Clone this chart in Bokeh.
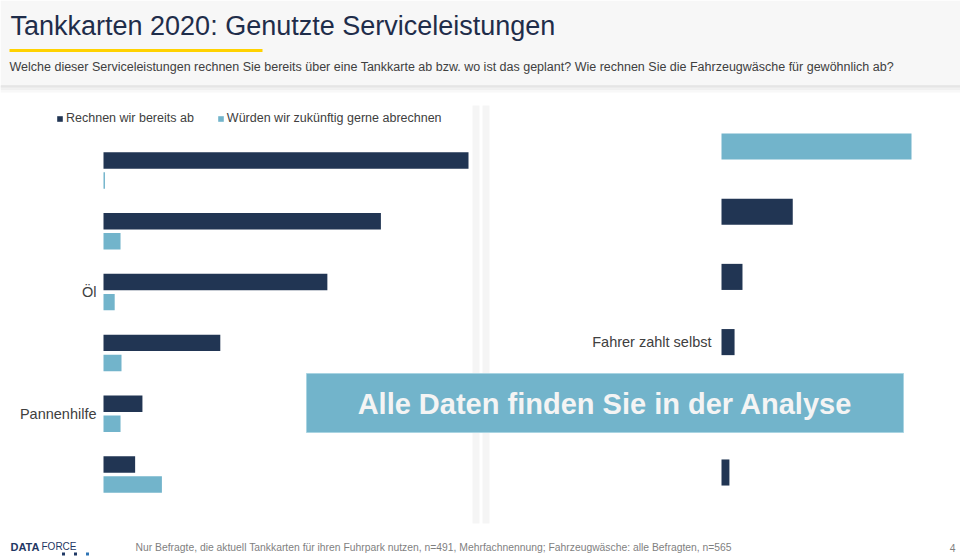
from bokeh.plotting import figure
from bokeh.models import Range1d, Legend, LegendItem, ColumnDataSource
from bokeh.transform import dodge
from bokeh.core.properties import value
from bokeh.embed import file_html
from bokeh.resources import INLINE

# ---------------- data ----------------
title = "Tankkarten 2020: Genutzte Serviceleistungen"
subtitle = ("Welche dieser Serviceleistungen rechnen Sie bereits über eine Tankkarte ab bzw. "
            "wo ist das geplant? Wie rechnen Sie die Fahrzeugwäsche für gewöhnlich ab?")
series_names = ["Rechnen wir bereits ab", "Würden wir zukünftig gerne abrechnen"]

left_labels = ["", "", "Öl", "", "Pannenhilfe", ""]
left_current = [75, 57, 46, 24, 8, 6.5]
left_future = [0.3, 3.5, 2.3, 3.7, 3.5, 12]

right_labels = ["", "", "", "Fahrer zahlt selbst", "", ""]
right_values = [48, 18, 5.3, 3.3, 3.0, 2.0]
right_series = [1, 0, 0, 0, 0, 0]

banner_text = "Alle Daten finden Sie in der Analyse"
footnote = ("Nur Befragte, die aktuell Tankkarten für ihren Fuhrpark nutzen, n=491, "
            "Mehrfachnennung; Fahrzeugwäsche: alle Befragten, n=565")
page_number = "4"

# ---------------- styles ----------------
FONT = "Liberation Sans"
DARK = "#213553"
LIGHT = "#72b4cb"
PALETTE = [DARK, LIGHT]
TEXT = "#404040"
TITLE_COL = "#1f2d4a"

W, H = 960, 560
X0, Y0 = 0, 0

p = figure(width=W, height=H, x_range=Range1d(X0, X0 + W), y_range=Range1d(Y0 + H, Y0),
           output_backend="svg", toolbar_location=None, min_border=0,
           x_axis_location=None, y_axis_location=None)
p.grid.visible = False
p.outline_line_color = None
p.background_fill_color = "white"
p.border_fill_color = "white"

# chart scales (layout): left chart 0..75 over px 103..468; rows at 170 + 60.8*i
L_PX0, L_PX1, L_MAX = 103, 468, 75
ls = (L_PX1 - L_PX0) / L_MAX
L_ROW0, L_PITCH = 170, 60.8
R_PX0, R_PX1, R_MAX = 721, 911, 48
rs = (R_PX1 - R_PX0) / R_MAX
R_ROW0, R_PITCH = 146, 65.2

p.extra_x_ranges = {
    "lx": Range1d((X0 - L_PX0) / ls, (X0 + W - L_PX0) / ls),
    "rx": Range1d((X0 - R_PX0) / rs, (X0 + W - R_PX0) / rs),
}
p.extra_y_ranges = {
    "ly": Range1d((Y0 + H - L_ROW0) / L_PITCH, (Y0 - L_ROW0) / L_PITCH),
    "ry": Range1d((Y0 + H - R_ROW0) / R_PITCH, (Y0 - R_ROW0) / R_PITCH),
}

# header
p.quad(left=[0], right=[960], top=[0], bottom=[85], fill_color="#f7f7f7", line_color=None)
for y0, y1, c in [(85, 86, "#d6d6d6"), (86, 87, "#e0e0e0"), (87, 88, "#e8e8e8"),
                  (88, 89.5, "#f0f0f0"), (89.5, 92, "#f8f8f8")]:
    p.quad(left=[0], right=[960], top=[y0], bottom=[y1], fill_color=c, line_color=None)
p.quad(left=[9], right=[262], top=[48.5], bottom=[51.5], fill_color="#ffd200", line_color=None)
p.text(x=[10], y=[25], text=[title], text_font=value(FONT), text_font_size="27px",
       text_color=TITLE_COL, text_baseline="middle")
p.text(x=[9], y=[66], text=[subtitle], text_font=value(FONT), text_font_size="12.5px",
       text_color=TEXT, text_baseline="middle")

# divider
p.quad(left=[472, 482], right=[479, 489], top=[105, 105], bottom=[523, 523],
       fill_color="#f5f5f5", line_color=None)

# left chart
lsrc = ColumnDataSource(dict(row=list(range(len(left_labels))), cur=left_current,
                             fut=left_future, label=left_labels))
r1 = p.hbar(y=dodge("row", -0.165), left=0, right="cur", height=0.27, source=lsrc,
            x_range_name="lx", y_range_name="ly", fill_color=DARK, line_color=None)
r2 = p.hbar(y=dodge("row", 0.165), left=0, right="fut", height=0.27, source=lsrc,
            x_range_name="lx", y_range_name="ly", fill_color=LIGHT, line_color=None)
p.text(x=0, y="row", text="label", source=lsrc, x_range_name="lx", y_range_name="ly",
       x_offset=-7, text_align="right", text_baseline="middle", text_font=value(FONT),
       text_font_size="14.5px", text_color=TEXT)

# right chart
rsrc = ColumnDataSource(dict(row=list(range(len(right_labels))), val=right_values,
                             color=[PALETTE[i] for i in right_series], label=right_labels))
p.hbar(y="row", left=0, right="val", height=0.4, source=rsrc, x_range_name="rx",
       y_range_name="ry", fill_color="color", line_color=None)
p.text(x=0, y="row", text="label", source=rsrc, x_range_name="rx", y_range_name="ry",
       x_offset=-10, text_align="right", text_baseline="middle", text_font=value(FONT),
       text_font_size="14.5px", text_color=TEXT)

# legend
legend = Legend(items=[LegendItem(label=series_names[0], renderers=[r1]),
                       LegendItem(label=series_names[1], renderers=[r2])],
                orientation="horizontal", location=(56, 435), glyph_width=7, glyph_height=7,
                label_standoff=3, spacing=23, padding=0, margin=0, border_line_color=None,
                background_fill_alpha=0, label_text_font=FONT, label_text_font_size="12.5px",
                label_text_color=TEXT)
p.add_layout(legend)

# banner
p.quad(left=[306], right=[903], top=[373], bottom=[432], fill_color=LIGHT,
       line_color="#a9d4e2", line_width=1)
p.text(x=[604.5], y=[403], text=[banner_text], text_font=value(FONT), text_font_size="29px",
       text_font_style="bold", text_color="#f4f4f4", text_align="center",
       text_baseline="middle")

# footer
p.text(x=[10], y=[546], text=["DATA"], text_font=value(FONT), text_font_size="11px",
       text_font_style="bold", text_color="#1f3864", text_baseline="middle")
p.text(x=[41], y=[546], text=["FORCE"], text_font=value(FONT), text_font_size="10px",
       text_color="#1f3864", text_baseline="middle")
p.rect(x=[63, 75, 87], y=[553.5, 553.5, 553.5], width=3, height=3,
       fill_color=["#1f3864", "#1f3864", "#2f75b5"], line_color=None)
p.text(x=[135], y=[547], text=[footnote], text_font=value(FONT), text_font_size="10.35px",
       text_color="#7f7f7f", text_baseline="middle")
p.text(x=[955], y=[547], text=[page_number], text_font=value(FONT), text_font_size="10.35px",
       text_color="#7f7f7f", text_align="right", text_baseline="middle")

open("out.html", "w").write(file_html(p, INLINE))
